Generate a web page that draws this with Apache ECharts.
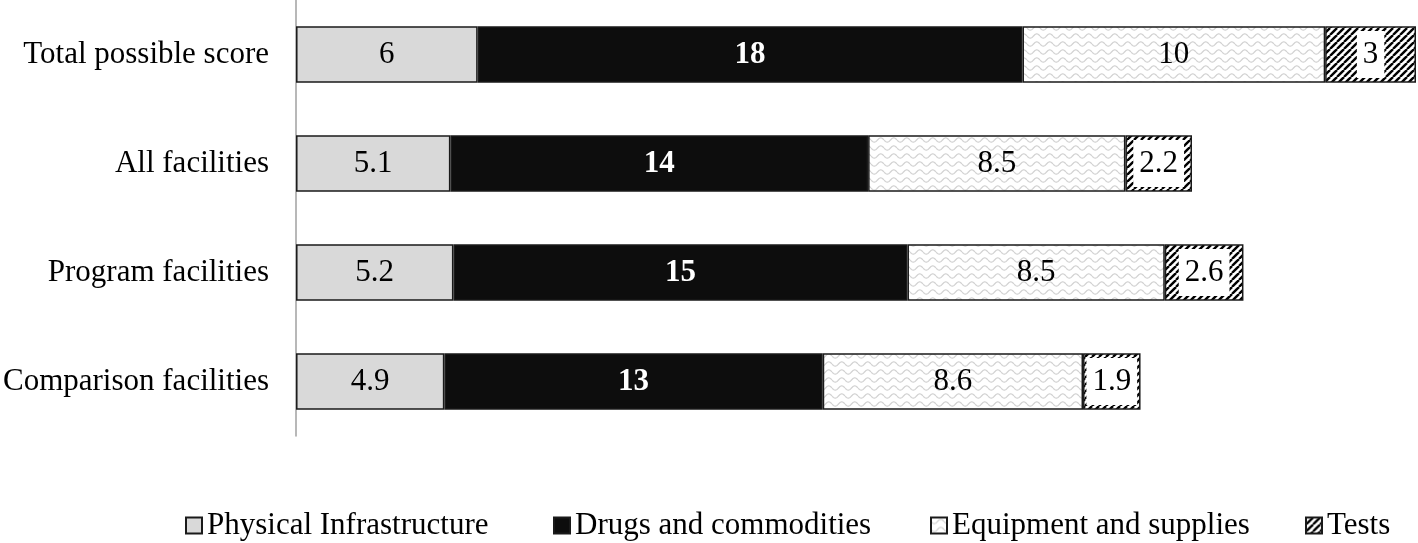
<!DOCTYPE html>
<html><head><meta charset="utf-8">
<script src="https://cdn.jsdelivr.net/npm/echarts@6/dist/echarts.min.js"></script>
<style>html,body{margin:0;padding:0;background:#fff}#c{width:1418px;height:543px}</style>
</head><body><div id="c"></div>
<script>
const categories = ['Total possible score', 'All facilities', 'Program facilities', 'Comparison facilities'];
const seriesNames = ['Physical Infrastructure', 'Drugs and commodities', 'Equipment and supplies', 'Tests'];
const physical = [6, 5.1, 5.2, 4.9];
const drugs = [18, 13.8, 15.0, 12.5];
const equipment = [10, 8.5, 8.5, 8.6];
const tests = [3, 2.2, 2.6, 1.9];
const physicalLabels = ['6', '5.1', '5.2', '4.9'];
const drugsLabels = ['18', '14', '15', '13'];
const equipmentLabels = ['10', '8.5', '8.5', '8.6'];
const testsLabels = ['3', '2.2', '2.6', '1.9'];

function zigzag() {
  const w = 13, h = 8;
  const c = document.createElement('canvas'); c.width = w; c.height = h;
  const g = c.getContext('2d');
  g.fillStyle = '#fff'; g.fillRect(0, 0, w, h);
  g.strokeStyle = '#d2d2d2'; g.lineWidth = 1.2;
  g.beginPath();
  for (let x = 0; x <= w; x += 0.5) {
    const y = 4 + 2.2 * Math.sin(x / w * 2 * Math.PI);
    if (x === 0) g.moveTo(x, y); else g.lineTo(x, y);
  }
  g.stroke();
  return c;
}
function hatch() {
  const c = document.createElement('canvas'); c.width = 7; c.height = 7;
  const g = c.getContext('2d');
  g.fillStyle = '#fff'; g.fillRect(0, 0, 7, 7);
  g.strokeStyle = '#000'; g.lineWidth = 2.4;
  for (let k = -7; k <= 14; k += 7) { g.beginPath(); g.moveTo(k, 7); g.lineTo(k + 7, 0); g.stroke(); }
  return c;
}
const font = 'Liberation Serif';
const fs = 31;
function mk(name, data, labels, color, labelOpt) {
  return {
    name, type: 'bar', stack: 'a', barWidth: '52%', data,
    itemStyle: { color, borderColor: '#1a1a1a', borderWidth: 1.5 },
    label: Object.assign({ show: true, position: 'inside', fontFamily: font, fontSize: fs, color: '#000',
      padding: [4, 0, 0, 0], formatter: p => labels[p.dataIndex] }, labelOpt || {}),
    emphasis: { disabled: true }
  };
}
const legendLefts = [185, 553, 930, 1305];
const chart = echarts.init(document.getElementById('c'));
chart.setOption({
  animation: false,
  grid: { left: 295, right: 2, top: 0, bottom: 107 },
  xAxis: { type: 'value', min: 0, max: 37, show: false },
  yAxis: { type: 'category', data: categories, inverse: true,
    axisLine: { show: true, lineStyle: { color: '#a0a0a0', width: 1.5 } }, axisTick: { show: false },
    axisLabel: { fontFamily: font, fontSize: fs, color: '#000', margin: 27, padding: [4, 0, 0, 0] } },
  legend: seriesNames.map((n, i) => ({
    top: 510, left: legendLefts[i], padding: 0, itemWidth: 16, itemHeight: 16,
    textStyle: { fontFamily: font, fontSize: fs, color: '#000' },
    data: [{ name: n, icon: 'rect' }]
  })),
  series: [
    mk(seriesNames[0], physical, physicalLabels, '#d9d9d9'),
    mk(seriesNames[1], drugs, drugsLabels, '#0d0d0d', { color: '#fff', fontWeight: 'bold' }),
    mk(seriesNames[2], equipment, equipmentLabels, { image: zigzag(), repeat: 'repeat' }),
    mk(seriesNames[3], tests, testsLabels, { image: hatch(), repeat: 'repeat' }, { backgroundColor: '#fff', padding: [10, 6, 6, 6] })
  ]
});
</script></body></html>
